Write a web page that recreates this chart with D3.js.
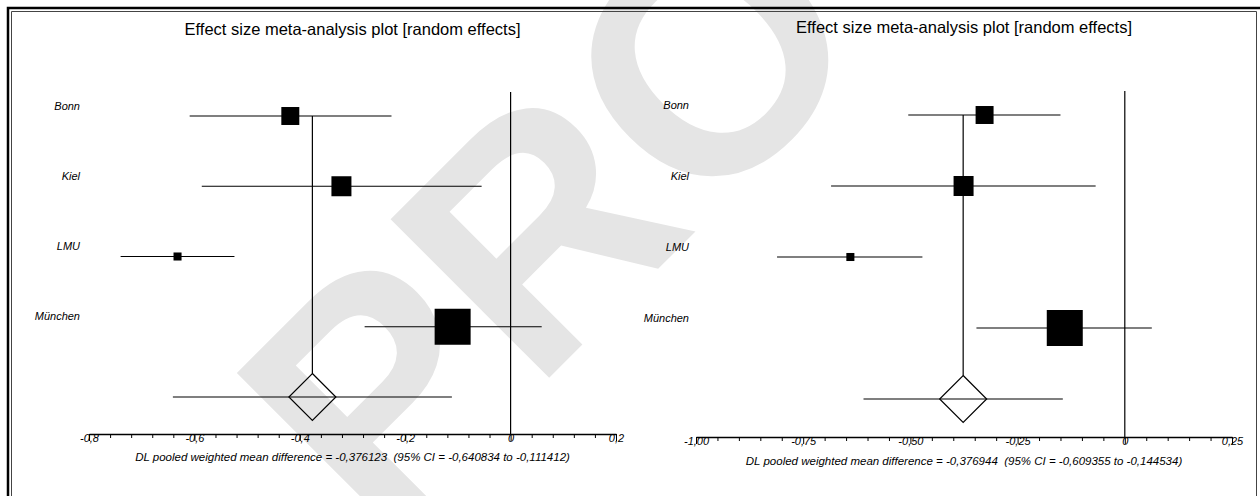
<!DOCTYPE html>
<html>
<head>
<meta charset="utf-8">
<script src="https://cdn.jsdelivr.net/npm/d3@7"></script>
<style>
  html, body { margin: 0; padding: 0; background: #fff; }
  svg { display: block; }
  text { font-family: "Liberation Sans", Arial, sans-serif; }
</style>
</head>
<body>
<svg id="chart" width="1260" height="496"></svg>
<script>
// ---------------- data ----------------
const studies = ["Bonn", "Kiel", "LMU", "München"];

const leftEffect = [-0.418, -0.321, -0.632, -0.110];
const leftLower  = [-0.609, -0.586, -0.740, -0.277];
const leftUpper  = [-0.226, -0.055, -0.524, 0.059];
const leftWeight = [15.5, 19.2, 3.1, 62.2];
const leftPooled = [-0.376123, -0.640834, -0.111412];
const leftTicks = [-0.8, -0.6, -0.4, -0.2, 0, 0.2];
const leftTickLabels = ["-0,8", "-0,6", "-0,4", "-0,2", "0", "0,2"];

const rightEffect = [-0.327, -0.376, -0.640, -0.140];
const rightLower  = [-0.505, -0.685, -0.811, -0.346];
const rightUpper  = [-0.150, -0.068, -0.472, 0.063];
const rightWeight = [15.5, 19.2, 3.1, 62.2];
const rightPooled = [-0.376944, -0.609355, -0.144534];
const rightTicks = [-1.0, -0.75, -0.5, -0.25, 0, 0.25];
const rightTickLabels = ["-1,00", "-0,75", "-0,50", "-0,25", "0", "0,25"];

const titleText = "Effect size meta-analysis plot [random effects]";
const watermarkText = "PROOF";

// ---------------- drawing ----------------
const svg = d3.select("#chart");
svg.append("rect").attr("width", 1260).attr("height", 496).attr("fill", "#fff");

// watermark (behind everything)
svg.append("text")
  .attr("transform", "translate(380,547) rotate(-45)")
  .attr("font-size", 326)
  .attr("font-weight", "bold")
  .attr("fill", "#e5e5e5")
  .text(watermarkText);

// window frame
const frame = svg.append("g").attr("fill", "none");
frame.append("path").attr("d", "M8,496V8H1260").attr("stroke", "#000").attr("stroke-width", 2.5);
frame.append("path").attr("d", "M11.5,496V11.5H1256.5V496").attr("stroke", "#444").attr("stroke-width", 1);

const fmt = v => (v.toFixed(6)).replace(".", ",");

function panel(cfg) {
  const g = svg.append("g");
  const x = d3.scaleLinear().domain(cfg.domain).range(cfg.xRange);
  const rows = cfg.studies.concat(["pooled"]);
  const y = d3.scalePoint().domain(rows).range(cfg.yRange);
  const size = d3.scaleSqrt().domain([0, d3.max(cfg.weight)]).range([0, 36]);
  const data = cfg.studies.map((s, i) => ({
    name: s, est: cfg.effect[i], lo: cfg.lower[i], hi: cfg.upper[i], w: cfg.weight[i]
  }));

  // title
  g.append("text")
    .attr("x", (cfg.xRange[0] + cfg.xRange[1]) / 2)
    .attr("y", cfg.titleY)
    .attr("text-anchor", "middle")
    .attr("font-size", 16.5)
    .attr("fill", "#000")
    .text(titleText);

  // study labels
  g.selectAll("text.lab").data(data).join("text")
    .attr("class", "lab")
    .attr("x", cfg.labelX)
    .attr("y", d => y(d.name) - 6.5)
    .attr("text-anchor", "end")
    .attr("font-size", 11)
    .attr("font-style", "italic")
    .text(d => d.name);

  // zero line
  g.append("line")
    .attr("x1", x(0)).attr("x2", x(0))
    .attr("y1", cfg.zeroTop).attr("y2", cfg.axisY)
    .attr("stroke", "#000").attr("stroke-width", 1.2);

  // pooled vertical line
  const dH = 23.5;
  g.append("line")
    .attr("x1", x(cfg.pooled[0])).attr("x2", x(cfg.pooled[0]))
    .attr("y1", y(cfg.studies[0])).attr("y2", y("pooled") - dH)
    .attr("stroke", "#000").attr("stroke-width", 1.2);

  // CI lines
  g.selectAll("line.ci").data(data).join("line")
    .attr("class", "ci")
    .attr("x1", d => x(d.lo)).attr("x2", d => x(d.hi))
    .attr("y1", d => y(d.name)).attr("y2", d => y(d.name))
    .attr("stroke", "#000").attr("stroke-width", 1.2);

  // squares
  g.selectAll("rect.box").data(data).join("rect")
    .attr("class", "box")
    .attr("x", d => x(d.est) - size(d.w) / 2)
    .attr("y", d => y(d.name) - size(d.w) / 2)
    .attr("width", d => size(d.w))
    .attr("height", d => size(d.w))
    .attr("fill", "#000");

  // pooled CI line + diamond
  const py = y("pooled");
  g.append("line")
    .attr("x1", x(cfg.pooled[1])).attr("x2", x(cfg.pooled[2]))
    .attr("y1", py).attr("y2", py)
    .attr("stroke", "#000").attr("stroke-width", 1.2);
  const px = x(cfg.pooled[0]);
  g.append("path")
    .attr("d", `M${px},${py - dH}L${px + dH},${py}L${px},${py + dH}L${px - dH},${py}Z`)
    .attr("fill", "none").attr("stroke", "#000").attr("stroke-width", 1.2);

  // axis (major)
  const ax = g.append("g").attr("transform", `translate(0,${cfg.axisY})`)
    .call(d3.axisBottom(x).tickValues(cfg.ticks).tickSizeInner(7).tickSizeOuter(0)
      .tickFormat((d, i) => cfg.tickLabels[i]));
  ax.select(".domain").attr("stroke", "#000").attr("stroke-width", 1.4);
  ax.selectAll(".tick line").attr("stroke", "#000");
  ax.selectAll(".tick text")
    .attr("y", 0).attr("dy", "0.72em")
    .attr("font-size", 11).attr("font-style", "italic")
    .attr("font-family", "Liberation Sans, Arial, sans-serif")
    .attr("fill", "#000");

  // axis (minor)
  const minor = d3.range(cfg.domain[0], cfg.domain[1] + 1e-9, cfg.minorStep)
    .filter(v => !cfg.ticks.some(t => Math.abs(t - v) < 1e-9));
  const mx = g.append("g").attr("transform", `translate(0,${cfg.axisY})`)
    .call(d3.axisBottom(x).tickValues(minor).tickSizeInner(4).tickSizeOuter(0).tickFormat(""));
  mx.select(".domain").remove();
  mx.selectAll(".tick line").attr("stroke", "#000");

  // footnote
  g.append("text")
    .attr("x", (cfg.xRange[0] + cfg.xRange[1]) / 2)
    .attr("y", cfg.noteY)
    .attr("text-anchor", "middle")
    .attr("font-size", 11.5)
    .attr("font-style", "italic")
    .style("white-space", "pre")
    .text(`DL pooled weighted mean difference = ${fmt(cfg.pooled[0])}  (95% CI = ${fmt(cfg.pooled[1])} to ${fmt(cfg.pooled[2])})`);
}

panel({
  studies, effect: leftEffect, lower: leftLower, upper: leftUpper, weight: leftWeight,
  pooled: leftPooled, ticks: leftTicks, tickLabels: leftTickLabels, minorStep: 0.04,
  domain: [-0.8, 0.2], xRange: [89, 616], yRange: [116, 397],
  axisY: 434, zeroTop: 92, titleY: 35, noteY: 461, labelX: 80
});

panel({
  studies, effect: rightEffect, lower: rightLower, upper: rightUpper, weight: rightWeight,
  pooled: rightPooled, ticks: rightTicks, tickLabels: rightTickLabels, minorStep: 0.05,
  domain: [-1.0, 0.25], xRange: [696, 1232], yRange: [115, 399],
  axisY: 437, zeroTop: 91, titleY: 33, noteY: 465, labelX: 689
});
</script>
</body>
</html>
